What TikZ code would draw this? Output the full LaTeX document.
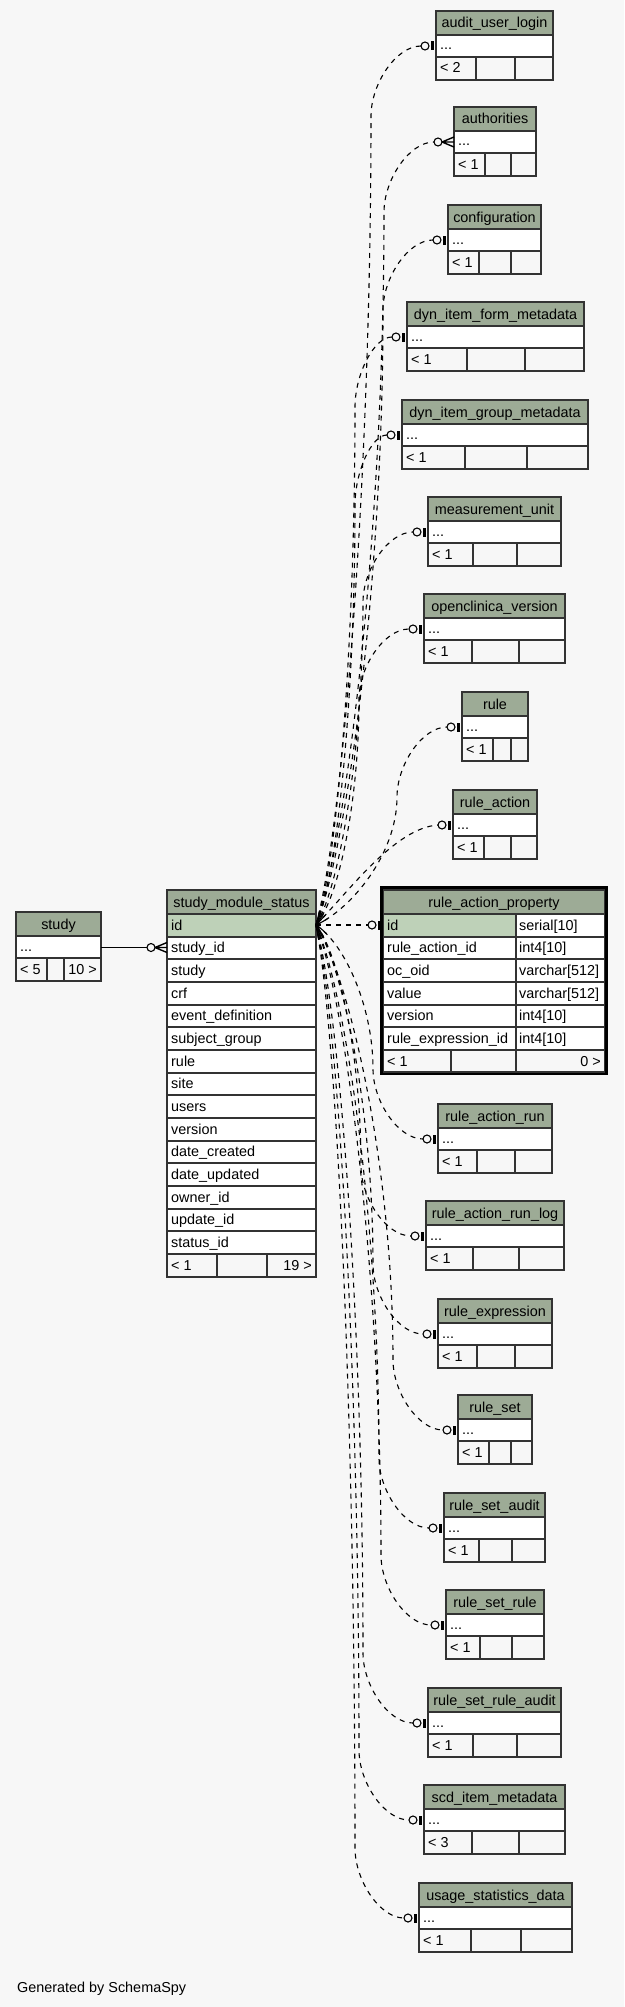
\documentclass[tikz,border=0pt]{standalone}
\usepackage{fontspec}
\setmainfont{Liberation Sans}
\usetikzlibrary{calc}
\definecolor{bgc}{HTML}{F7F7F7}
\definecolor{hdrc}{HTML}{9DAB96}
\definecolor{idc}{HTML}{BED1B8}
\definecolor{bordc}{HTML}{333333}
\tikzset{
  tb/.style={draw=bordc,line width=1.2pt},
  txt/.style={inner sep=0pt,font=\fontsize{14.4}{16}\selectfont,text=black},
  rel/.style={draw=black,line width=1.1pt,dash pattern=on 5pt off 5pt},
  relsolid/.style={draw=black,line width=1.1pt},
  mk/.style={draw=black,line width=1.1pt},
}
% small table: name, title, x1, x2, top, d1, d2, footer number
\newcommand\stab[8]{%
  \pgfmathsetmacro\tH{#5+24}%
  \pgfmathsetmacro\tR{#5+46}%
  \pgfmathsetmacro\tB{#5+69}%
  \pgfmathsetmacro\tM{(#3+#4)/2}%
  \fill[hdrc] (#3,#5) rectangle (#4,\tH);
  \fill[white] (#3,\tH) rectangle (#4,\tR);
  \draw[tb] (#3,\tH) -- (#4,\tH) (#3,\tR) -- (#4,\tR) (#6,\tR) -- (#6,\tB) (#7,\tR) -- (#7,\tB);
  \draw[tb] (#3,#5) rectangle (#4,\tB);
  \node[txt,anchor=base] (#1-h) at (\tM,{#5+17}) {#2};
  \node[txt,anchor=base west] (#1-r) at ({#3+4},{#5+39}) {...};
  \node[txt,anchor=base west] (#1-f) at ({#3+4},{#5+62}) {< #8};
}
% zero-or-one marker: coord name, table left x, y
\newcommand\barmark[3]{%
  \coordinate (#1) at ({#2-15},#3);
  \draw[mk,fill=bgc] ({#2-11},#3) circle (4pt);
  \fill[black] ({#2-5},{#3-4.5}) rectangle ({#2-2},{#3+4.5});
}
% zero-or-many marker
\newcommand\crowmark[3]{%
  \coordinate (#1) at ({#2-20},#3);
  \draw[mk,fill=bgc] ({#2-16},#3) circle (4pt);
  \draw[mk,line width=1.4pt] ({#2-12},#3) -- ({#2},{#3-5}) ({#2-12},#3) -- ({#2},#3) ({#2-12},#3) -- ({#2},{#3+5});
}
% curved relation from S to named end coordinate #1 at (#3,#2)
\newcommand\relto[3]{%
  \pgfmathsetmacro\ss{ifthenelse(#2<925,-1,1)}%
  \pgfmathsetmacro\wx{max(#3-50,355)}%
  \pgfmathsetmacro\wy{#2-\ss*70}%
  \pgfmathsetmacro\dd{abs(\wy-925)}%
  \pgfmathsetmacro\ax{326+0.3*(\wx-316)}%
  \pgfmathsetmacro\ay{925+\ss*0.12*\dd}%
  \pgfmathsetmacro\by{\wy-\ss*0.45*\dd}%
  \pgfmathsetmacro\cy{#2-\ss*38}%
  \pgfmathsetmacro\dx{#3-0.5*(#3-\wx)}%
  \def\pth{(S) .. controls (\ax,\ay) and (\wx,\by) .. (\wx,\wy) .. controls (\wx,\cy) and (\dx,#2) .. (#1)}%
  \draw[rel] \pth;
  \begin{scope}
    \clip (S) circle (14pt);
    \draw[relsolid] \pth;
  \end{scope}
}
\begin{document}
\begin{tikzpicture}[x=1pt,y=-1pt]
\fill[bgc] (0,0) rectangle (624,2007);
\useasboundingbox (0,0) rectangle (624,2007);

% ---------- study ----------
\fill[hdrc] (16,912) rectangle (101,936);
\fill[white] (16,936) rectangle (101,958);
\draw[tb] (16,936) -- (101,936) (16,958) -- (101,958) (47,958) -- (47,981) (64,958) -- (64,981);
\draw[tb] (16,912) rectangle (101,981);
\node[txt,anchor=base] (study-h) at (58.5,929) {study};
\node[txt,anchor=base west] (study-r) at (20,951) {...};
\node[txt,anchor=base west] (study-f1) at (20,974) {< 5};
\node[txt,anchor=base east] (study-f3) at (97,974) {10 >};

% ---------- study_module_status ----------
\fill[hdrc] (167,890) rectangle (316,914);
\fill[idc] (167,914) rectangle (316,937);
\fill[white] (167,937) rectangle (316,1254);
\foreach \k in {1,...,16} {
  \pgfmathsetmacro\yy{round(914+(\k-1)*22.667)}
  \draw[tb] (167,\yy) -- (316,\yy);
}
\draw[tb] (167,1254) -- (316,1254) (217,1254) -- (217,1277) (267,1254) -- (267,1277);
\draw[tb] (167,890) rectangle (316,1277);
\node[txt,anchor=base] (sms-h) at (241.5,907) {study\_module\_status};
\foreach \n [count=\i from 0] in {id,study\_id,study,crf,event\_definition,subject\_group,rule,site,users,version,date\_created,date\_updated,owner\_id,update\_id,status\_id} {
  \pgfmathsetmacro\yy{914+\i*22.667+16.3}
  \node[txt,anchor=base west] (sms-\i) at (171,\yy) {\n};
}
\node[txt,anchor=base west] (sms-f1) at (171,1270) {< 1};
\node[txt,anchor=base east] (sms-f3) at (312,1270) {19 >};
\coordinate (S) at (316,925);

% study -> study_module_status
\coordinate (st-e) at (101,947.5);
\coordinate (sms-in) at (147,947.5);
\draw[relsolid] (st-e) -- (sms-in);
\draw[mk,fill=bgc] (151,947.5) circle (4pt);
\draw[mk,line width=1.4pt] (155,947.5) -- (167,942.5) (155,947.5) -- (167,947.5) (155,947.5) -- (167,952.5);

% ---------- rule_action_property ----------
\fill[hdrc] (383,890) rectangle (605,914);
\fill[idc] (383,914) rectangle (516,937);
\fill[white] (516,914) rectangle (605,937);
\fill[white] (383,937) rectangle (605,1050);
\foreach \k in {1,...,8} {
  \pgfmathsetmacro\yy{round(914+(\k-1)*22.667)}
  \draw[tb] (383,\yy) -- (605,\yy);
}
\draw[tb] (516,914) -- (516,1072) (451,1050) -- (451,1072);
\draw[tb] (383,890) rectangle (605,1072);
\draw[draw=black,line width=2.6pt] (381.5,887.5) rectangle (606.5,1074);
\node[txt,anchor=base] (rap-h) at (494,907) {rule\_action\_property};
\foreach \n/\t [count=\i from 0] in {id/serial[10],rule\_action\_id/int4[10],oc\_oid/varchar[512],value/varchar[512],version/int4[10],rule\_expression\_id/int4[10]} {
  \pgfmathsetmacro\yy{914+\i*22.667+16.3}
  \node[txt,anchor=base west] (rap-n\i) at (387,\yy) {\n};
  \node[txt,anchor=base west] (rap-t\i) at (519,\yy) {\t};
}
\node[txt,anchor=base west] (rap-f1) at (387,1066) {< 1};
\node[txt,anchor=base east] (rap-f3) at (601,1066) {0 >};
\barmark{rap-e}{383}{925}
\draw[rel] (S) -- (rap-e);

% ---------- small tables ----------
\stab{aul}{audit\_user\_login}{436}{553}{11}{476}{515}{2}
\stab{auth}{authorities}{454}{536}{107}{485}{511}{1}
\stab{conf}{configuration}{448}{541}{205}{479}{511}{1}
\stab{difm}{dyn\_item\_form\_metadata}{407}{584}{302}{467}{525}{1}
\stab{digm}{dyn\_item\_group\_metadata}{402}{588}{400}{465}{527}{1}
\stab{mu}{measurement\_unit}{428}{561}{497}{473}{517}{1}
\stab{ocv}{openclinica\_version}{424}{565}{594}{472}{519}{1}
\stab{rule}{rule}{462}{528}{692}{493}{511}{1}
\stab{ra}{rule\_action}{453}{537}{790}{484}{511}{1}
\stab{rar}{rule\_action\_run}{438}{552}{1104}{477}{515}{1}
\stab{rarl}{rule\_action\_run\_log}{426}{564}{1201}{473}{519}{1}
\stab{re}{rule\_expression}{438}{552}{1299}{477}{515}{1}
\stab{rs}{rule\_set}{458}{532}{1395}{489}{511}{1}
\stab{rsa}{rule\_set\_audit}{444}{545}{1493}{479}{512}{1}
\stab{rsr}{rule\_set\_rule}{446}{544}{1590}{480}{512}{1}
\stab{rsra}{rule\_set\_rule\_audit}{428}{561}{1688}{473}{517}{1}
\stab{scd}{scd\_item\_metadata}{424}{565}{1785}{472}{519}{3}
\stab{usd}{usage\_statistics\_data}{419}{572}{1883}{471}{521}{1}

% ---------- relations ----------
\barmark{aul-e}{436}{46}    \relto{aul-e}{46}{421}
\crowmark{auth-e}{454}{142} \relto{auth-e}{142}{434}
\barmark{conf-e}{448}{240}  \relto{conf-e}{240}{433}
\barmark{difm-e}{407}{337}  \relto{difm-e}{337}{392}
\barmark{digm-e}{402}{435}  \relto{digm-e}{435}{387}
\barmark{mu-e}{428}{532}    \relto{mu-e}{532}{413}
\barmark{ocv-e}{424}{629}   \relto{ocv-e}{629}{409}
\barmark{rule-e}{462}{727}  \relto{rule-e}{727}{447}
\barmark{ra-e}{453}{825}
\draw[rel] (S) .. controls (350,890) and (395,828) .. (ra-e);
\begin{scope}\clip (S) circle (14pt);
\draw[relsolid] (S) .. controls (350,890) and (395,828) .. (ra-e);
\end{scope}
\barmark{rar-e}{438}{1139}  \relto{rar-e}{1139}{423}
\barmark{rarl-e}{426}{1236} \relto{rarl-e}{1236}{411}
\barmark{re-e}{438}{1334}   \relto{re-e}{1334}{423}
\barmark{rs-e}{458}{1430}   \relto{rs-e}{1430}{443}
\barmark{rsa-e}{444}{1528}  \relto{rsa-e}{1528}{429}
\barmark{rsr-e}{446}{1625}  \relto{rsr-e}{1625}{431}
\barmark{rsra-e}{428}{1723} \relto{rsra-e}{1723}{413}
\barmark{scd-e}{424}{1820}  \relto{scd-e}{1820}{409}
\barmark{usd-e}{419}{1918}  \relto{usd-e}{1918}{404}

\node[txt,anchor=base west] (gen) at (17,1992) {Generated by SchemaSpy};
\end{tikzpicture}
\end{document}
